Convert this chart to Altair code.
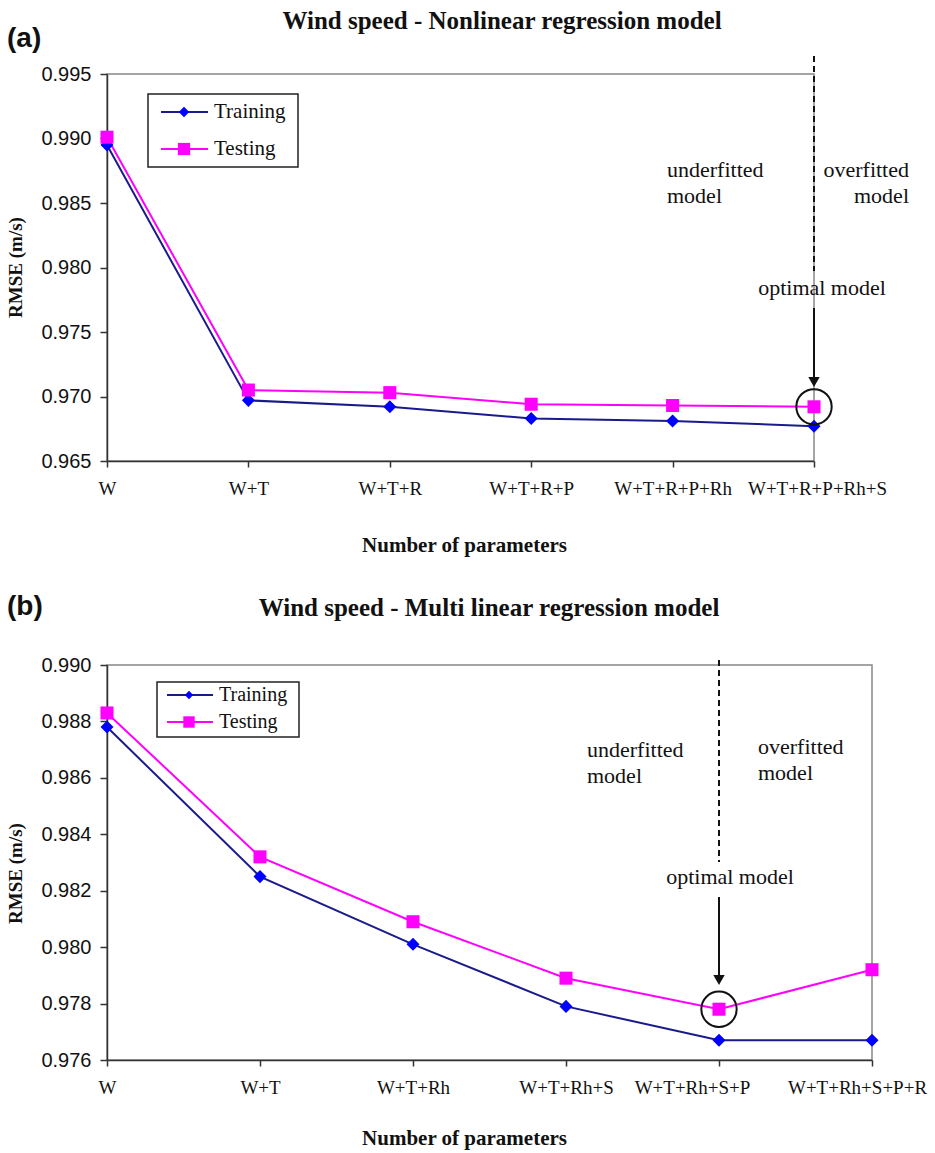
import altair as alt
import pandas as pd

# ---------------- data ----------------
series = ["Training", "Testing"]

cats_a = ["W", "W+T", "W+T+R", "W+T+R+P", "W+T+R+P+Rh", "W+T+R+P+Rh+S"]
train_a = [0.9895, 0.9697, 0.9692, 0.9683, 0.9681, 0.9677]
test_a = [0.9901, 0.9705, 0.9703, 0.9694, 0.9693, 0.9692]
opt_a = "W+T+R+P+Rh+S"
yticks_a = [0.965, 0.970, 0.975, 0.980, 0.985, 0.990, 0.995]

cats_b = ["W", "W+T", "W+T+Rh", "W+T+Rh+S", "W+T+Rh+S+P", "W+T+Rh+S+P+R"]
train_b = [0.9878, 0.9825, 0.9801, 0.9779, 0.9767, 0.9767]
test_b = [0.9883, 0.9832, 0.9809, 0.9789, 0.9778, 0.9792]
opt_b = "W+T+Rh+S+P"
yticks_b = [0.976, 0.978, 0.980, 0.982, 0.984, 0.986, 0.988, 0.990]

title_a = "Wind speed - Nonlinear regression model"
title_b = "Wind speed - Multi linear  regression model"

# ---------------- styles ----------------
LINE_COLORS = ["#1a1a8c", "#ff00ff"]
PT_COLORS = ["#0000ff", "#ff00ff"]
SHAPES = ["diamond", "square"]
SERIF = "Liberation Serif"
SANS = "Liberation Sans"
TXT = "#111111"


def panel(cats, train, test, opt, yticks, w, h, title, tag, L):
    df = pd.DataFrame({
        "cat": cats + cats,
        "val": train + test,
        "series": ["Training"] * len(cats) + ["Testing"] * len(cats),
    })
    one = pd.DataFrame({"k": [0]})

    expr = "0"
    for lab, off in L["label_offsets"].items():
        expr = f"datum.value === '{lab}' ? {off} : ({expr})"

    x = alt.X("cat:N", sort=cats,
              scale=alt.Scale(type="point", padding=0),
              axis=alt.Axis(title="Number of parameters", labelAngle=0,
                            labelFont=SERIF, labelFontSize=19, labelColor=TXT,
                            labelPadding=12, labelOverlap=False, labelBound=False,
                            labelFlush=False,
                            labelOffset=alt.ExprRef(expr),
                            tickSize=6, tickColor="#333", tickWidth=1.5,
                            domainColor="#333", domainWidth=1.5,
                            titleFont=SERIF, titleFontSize=21, titleFontWeight="bold",
                            titleColor=TXT, titlePadding=L["xtitle_pad"], titleX=L["xtitle_x"],
                            grid=False))
    y = alt.Y("val:Q",
              scale=alt.Scale(domain=[yticks[0], yticks[-1]], nice=False, zero=False),
              axis=alt.Axis(title="RMSE (m/s)", values=yticks, format=".3f",
                            labelFont=SANS, labelFontSize=20, labelColor=TXT,
                            labelPadding=9, tickSize=7, tickColor="#333", tickWidth=1.5,
                            domainColor="#333", domainWidth=1.5,
                            titleFont=SERIF, titleFontSize=19, titleFontWeight="bold",
                            titleColor=TXT, titlePadding=15, titleY=L["ytitle_y"],
                            grid=False))

    base = alt.Chart(df)
    lines = base.mark_line(strokeWidth=2).encode(
        x=x, y=y,
        stroke=alt.Stroke("series:N", scale=alt.Scale(domain=series, range=LINE_COLORS), legend=None),
        order=alt.Order("series:N", sort="descending"),
    )
    pts = base.mark_point(filled=True, opacity=1, size=L["msize"], strokeWidth=0).encode(
        x=x, y=y,
        fill=alt.Fill("series:N", scale=alt.Scale(domain=series, range=PT_COLORS), legend=None),
        shape=alt.Shape("series:N", scale=alt.Scale(domain=series, range=SHAPES), legend=None),
    )

    optrow = base.transform_filter(
        (alt.datum.cat == opt) & (alt.datum.series == "Testing"))
    dashed = optrow.mark_rule(color="#111", strokeWidth=2, strokeDash=[6, 4]).encode(
        x=x, y=alt.value(L["dash_y0"]), y2=alt.value(L["dash_y1"]))
    arrow = optrow.mark_rule(color="#111", strokeWidth=2).encode(
        x=x, y=alt.value(L["arr_y0"]), y2=alt.value(L["arr_y1"]))
    head = optrow.mark_point(shape="triangle-down", filled=True, color="#111",
                             size=130, opacity=1).encode(x=x, y=alt.value(L["head_y"]))
    circ = optrow.mark_point(shape="circle", filled=False, color="#111",
                             strokeWidth=2, size=L["circ"], opacity=1).encode(x=x, y=y)

    def txt(text, xp, yp, size=22, align="left", font=SERIF, weight="normal", baseline="top", lh=26):
        return alt.Chart(one).mark_text(text=text, align=align, baseline=baseline,
                                        font=font, fontSize=size, fontWeight=weight,
                                        color=TXT, lineHeight=lh).encode(
            x=alt.value(xp), y=alt.value(yp))

    under = txt(["underfitted", "model"], L["under_x"], L["under_y"])
    over = txt(["overfitted", "model"], L["over_x"], L["over_y"], align=L["over_align"])
    optt = txt("optimal model", L["opt_x"], L["opt_y"], align="center", baseline="middle")
    ttl = txt(title, L["title_x"], L["title_y"], size=25, align="center",
              weight="bold", baseline="middle")
    tg = txt(tag, L["tag_x"], L["tag_y"], size=28, font=SANS, weight="bold",
             baseline="middle")

    # legend
    bx0, by0, bx1, by1 = L["box"]
    box = alt.Chart(one).mark_rect(fill="white", stroke="#222", strokeWidth=1.5).encode(
        x=alt.value(bx0), x2=alt.value(bx1), y=alt.value(by0), y2=alt.value(by1))
    leg = [box]
    for i, s in enumerate(series):
        yy = L["leg_y"][i]
        leg.append(alt.Chart(one).mark_rule(color=LINE_COLORS[i], strokeWidth=2).encode(
            x=alt.value(L["leg_l0"]), x2=alt.value(L["leg_l1"]), y=alt.value(yy)))
        leg.append(alt.Chart(one).mark_point(shape=SHAPES[i], filled=True, color=PT_COLORS[i],
                                             size=L["leg_msize"][i], opacity=1).encode(
            x=alt.value(L["leg_m"]), y=alt.value(yy)))
        leg.append(txt(s, L["leg_t"], yy, size=L["leg_fs"], baseline="middle"))

    return alt.layer(lines, pts, dashed, arrow, head, circ, under, over, optt, ttl, tg, *leg
                     ).properties(width=w, height=h)


La = dict(xtitle_x=357, xtitle_pad=36, ytitle_y=193, msize=170, circ=1250,
          label_offsets={"W+T+R+P+Rh+S": 3},
          dash_y0=-18, dash_y1=197, arr_y0=234, arr_y1=304, head_y=308,
          under_x=560, under_y=86, over_x=802, over_y=86, over_align="right",
          opt_x=715, opt_y=214, title_x=395, title_y=-53, tag_x=-100, tag_y=-35,
          box=(41, 20, 191, 93), leg_y=[38, 75], leg_l0=54, leg_l1=101, leg_m=77,
          leg_t=107, leg_msize=[110, 150], leg_fs=21)
Lb = dict(xtitle_x=357, xtitle_pad=30, ytitle_y=208, msize=170, circ=1250,
          label_offsets={"W+T+Rh+S+P": -27, "W+T+Rh+S+P+R": -15},
          dash_y0=-5, dash_y1=197, arr_y0=232, arr_y1=312, head_y=315,
          under_x=480, under_y=75, over_x=651, over_y=72, over_align="left",
          opt_x=623, opt_y=212, title_x=382, title_y=-57, tag_x=-100, tag_y=-58,
          box=(50, 17, 192, 72), leg_y=[30, 57], leg_l0=60, leg_l1=106, leg_m=82,
          leg_t=112, leg_msize=[70, 130], leg_fs=20)

pa = panel(cats_a, train_a, test_a, opt_a, yticks_a, 707, 387, title_a, "(a)", La)
pb = panel(cats_b, train_b, test_b, opt_b, yticks_b, 765, 395, title_b, "(b)", Lb)

chart = alt.vconcat(pa, pb, spacing=36).properties(
    padding={"left": 6, "top": 8, "right": 0, "bottom": 5},
    background="white",
).configure_view(stroke="#888888", strokeWidth=1.5)

chart.save("out.html", embed_options={"renderer": "svg", "actions": False})
